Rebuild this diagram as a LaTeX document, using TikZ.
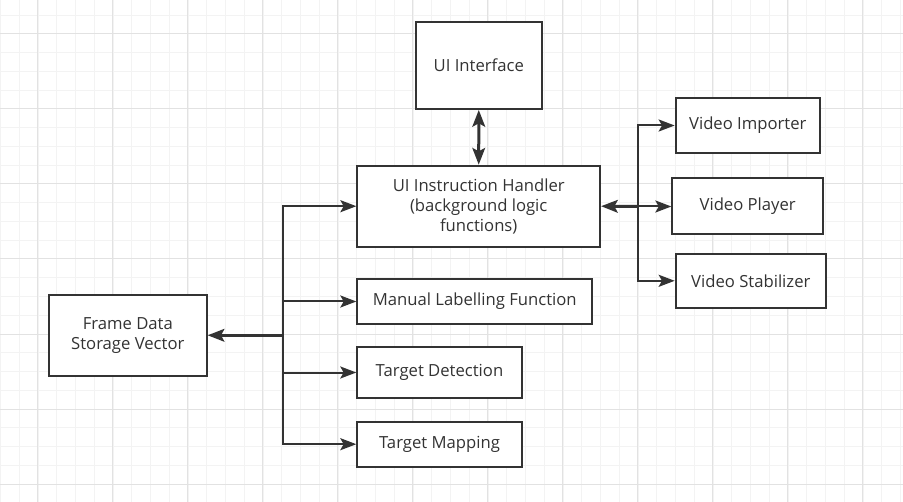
\documentclass[tikz,border=0pt]{standalone}
\usepackage{fontspec}
\setmainfont{Open Sans}
\usepackage{xcolor}
\usetikzlibrary{arrows.meta, positioning, calc}
\definecolor{boxDark}{HTML}{333333}
\definecolor{textDark}{HTML}{333333}
\definecolor{gridMinor}{HTML}{F3F3F3}
\definecolor{gridMajor}{HTML}{E2E2E2}

\begin{document}
\begin{tikzpicture}[x=0.75pt, y=-0.75pt]
        % Styles
        \tikzstyle{block} = [rectangle, draw=boxDark, line width=1.5pt, fill=white, align=center, text=textDark, font=\fontsize{12.5}{15}\selectfont, inner sep=0pt]
        \tikzstyle{arrow} = [draw=boxDark, line width=1.5pt, -{Stealth[length=12pt, width=9pt, inset=2.5pt]}]
        \tikzstyle{bold arrow} = [draw=boxDark, line width=2.25pt, -{Stealth[length=12.5pt, width=9.5pt, inset=2.5pt]}]

        % Background grid
        \useasboundingbox (0,0) rectangle (903,502);
        \fill[white] (0,0) rectangle (903,502);
        \foreach \i in {0,...,48} \draw[gridMinor, line width=0.75pt] (0.5+18.75*\i,0) -- (0.5+18.75*\i,502);
        \foreach \i in {0,...,25} \draw[gridMinor, line width=0.75pt] (0,15.25+18.75*\i) -- (903,15.25+18.75*\i);
        \foreach \i in {0,...,11} \draw[gridMajor, line width=0.75pt] (37.5+75*\i,0) -- (37.5+75*\i,502);
        \foreach \i in {0,...,6} \draw[gridMajor, line width=0.75pt] (0,34+75*\i) -- (903,34+75*\i);

        % Nodes
        \node (ui) [block, minimum width=94.3pt, minimum height=65.5pt] at (478.8,65.3) {UI Interface};

        \node (handler) [block, minimum width=182pt, minimum height=60.8pt] at (478.7,206.2) {UI Instruction Handler\\(background logic\\functions)};

        \node (importer) [block, minimum width=108.2pt, minimum height=40.8pt] at (747.8,125.5) {Video Importer};
        \node (player) [block, minimum width=113pt, minimum height=42pt] at (747.7,206.5) {Video Player};
        \node (stabilizer) [block, minimum width=112.7pt, minimum height=40.8pt] at (750.8,280.8) {Video Stabilizer};

        \node (storage) [block, minimum width=118.3pt, minimum height=61pt] at (127.8,335.3) {Frame Data\\Storage Vector};

        \node (labelling) [block, minimum width=176.2pt, minimum height=33.8pt] at (474.8,301.5) {Manual Labelling Function};
        \node (detection) [block, minimum width=123.3pt, minimum height=38.7pt] at (439.5,372.5) {Target Detection};
        \node (mapping) [block, minimum width=123.3pt, minimum height=33.8pt] at (439.5,444.2) {Target Mapping};

        % Junctions
        \coordinate (leftbus) at (282.5,335.3);
        \coordinate (rightbus) at (638.3,206.5);

        % Arrows
        \draw [bold arrow, {Stealth[length=12.5pt, width=9.5pt, inset=2.5pt]}-{Stealth[length=12.5pt, width=9.5pt, inset=2.5pt]}] (ui) -- (handler);

        \draw [bold arrow] (leftbus) -- (storage);
        \draw [arrow] (leftbus) |- (handler.west);
        \draw [arrow] (leftbus) |- (labelling.west);
        \draw [arrow] (leftbus) |- (detection.west);
        \draw [arrow] (leftbus) |- (mapping.west);

        \draw [bold arrow] (rightbus) -- (handler.east);
        \draw [arrow] (rightbus) |- (importer.west);
        \draw [arrow] (rightbus) -- (player.west);
        \draw [arrow] (rightbus) |- (stabilizer.west);

    \end{tikzpicture}
\end{document}
